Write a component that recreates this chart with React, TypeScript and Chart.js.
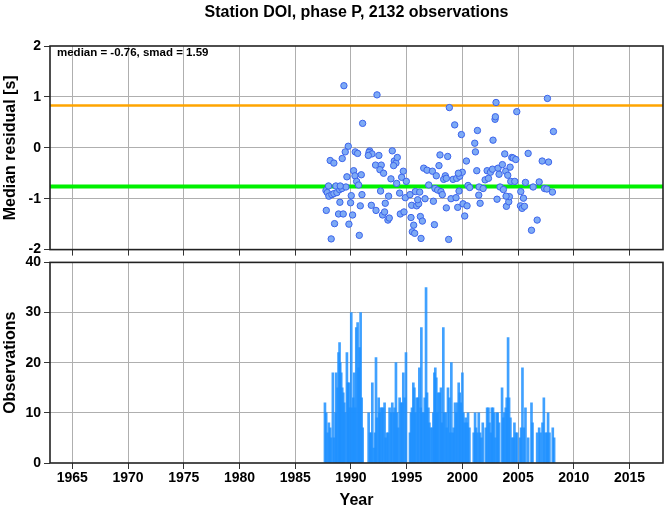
import React, { useEffect, useRef } from "react";
import { Chart, registerables } from "chart.js";

Chart.register(...registerables);

const titleText = "Station DOI, phase P, 2132 observations";
const statsText = "median = -0.76, smad = 1.59";
const residualAxisTitle = "Median residual [s]";
const obsAxisTitle = "Observations";
const yearAxisTitle = "Year";

const X_MIN = 1963;
const X_MAX = 2018;
const xTicks = [1965, 1970, 1975, 1980, 1985, 1990, 1995, 2000, 2005, 2010, 2015];
const residualTicks = [-2, -1, 0, 1, 2];
const obsTicks = [0, 10, 20, 30, 40];

const medianLevel = -0.76;
const upperLevel = 0.83;

const residualYears = [
  1989.37, 1992.34, 1991.05, 1998.83, 2003.02, 2007.63, 2004.88, 1999.31, 2002.93, 2002.96,
  1999.91, 2001.35, 2002.75, 2008.17, 2001.11, 2001.17, 1989.76, 1989.49, 1989.22, 1988.14,
  1988.47, 1990.39, 1990.6, 1991.68, 1991.62, 1991.89, 1991.56, 1992.51, 1993.71, 1993.89,
  1994.04, 1993.83, 1994.16, 1992.21, 1992.72, 1992.6, 1992.93, 1990.24, 1990.36, 1990.93,
  1990.51, 1990.69, 1989.64, 1993.59, 1994.55, 1994.7, 1994.97, 1994.1, 1997.99, 1998.68,
  2000.36, 1996.53, 1996.83, 1997.31, 1997.66, 1997.9, 1998.47, 1998.32, 1998.56, 1999.16,
  1999.49, 1999.76, 1999.99, 1999.64, 2000.51, 2000.66, 1996.98, 1997.54, 1997.78, 1998.08,
  1998.2, 1999.7, 2001.29, 2001.5, 2001.86, 2002.04, 2002.22, 2002.34, 2002.52, 2002.7,
  2003.2, 2003.29, 2003.59, 2003.8, 2003.89, 2004.07, 2004.28, 2004.34, 2004.7, 2004.43,
  2004.55, 2004.79, 2005.9, 2003.38, 2003.68, 2003.11, 2003.95, 2004.16, 2004.22, 2005.24,
  2005.48, 2005.66, 2005.21, 2005.36, 2005.57, 2006.35, 2006.89, 2007.16, 2007.73, 2007.37,
  2007.58, 2008.08, 2006.71, 2006.2, 1987.76, 1987.88, 1988.02, 1988.29, 1988.47, 1988.74,
  1988.98, 1989.19, 1989.55, 1987.99, 1988.65, 1989.04, 1989.01, 1987.79, 1988.89, 1989.31,
  1988.53, 1989.82, 1988.23, 1990.75, 1989.97, 1990.03, 1990.15, 1990.84, 1990.99, 1991.83,
  1992.25, 1992.66, 1992.84, 1993.02, 1993.32, 1993.44, 1993.08, 1993.38, 1994.37, 1994.43,
  1994.76, 1994.88, 1995.3, 1995.78, 1996.17, 1995.45, 1995.9, 1996.08, 1995.99, 1996.65,
  1995.39, 1996.23, 1996.41, 1995.63, 1995.51, 1995.72, 1996.29, 1997.4, 1997.49, 1998.56,
  1998.98, 1999.43, 1999.58, 2000.06, 2000.42, 2000.21, 1998.77, 2001.47, 2001.59, 2003.92,
];

const residualValues = [
  1.22, 1.04, 0.48, 0.79, 0.89, 0.97, 0.71, 0.45, 0.56, 0.61,
  0.26, 0.34, 0.15, 0.32, 0.09, -0.08, 0.03, -0.08, -0.21, -0.25,
  -0.3, -0.08, -0.11, -0.06, -0.09, -0.12, -0.15, -0.15, -0.06, -0.26,
  -0.3, -0.35, -0.19, -0.34, -0.34, -0.43, -0.5, -0.45, -0.55, -0.53,
  -0.66, -0.73, -0.57, -0.61, -0.58, -0.46, -0.66, -0.7, -0.14, -0.17,
  -0.26, -0.4, -0.44, -0.46, -0.55, -0.35, -0.55, -0.62, -0.6, -0.62,
  -0.6, -0.56, -0.48, -0.5, -0.74, -0.78, -0.73, -0.8, -0.83, -0.86,
  -0.92, -0.85, -0.45, -0.77, -0.8, -0.63, -0.45, -0.6, -0.48, -0.42,
  -0.4, -0.52, -0.33, -0.12, -0.46, -0.54, -0.38, -0.66, -0.66, -0.19,
  -0.2, -0.23, -0.11, -0.77, -0.82, -1.01, -1.15, -1.06, -0.96, -0.86,
  -0.99, -0.68, -1.14, -1.19, -1.15, -0.77, -0.67, -0.26, -0.28, -0.8,
  -0.81, -0.87, -1.42, -1.62, -0.84, -0.88, -0.95, -0.92, -0.9, -0.88,
  -0.82, -0.8, -0.77, -0.75, -0.75, -0.75, -1.07, -1.23, -1.3, -1.3,
  -1.49, -1.5, -1.79, -1.72, -1.08, -0.94, -1.32, -1.14, -0.92, -1.13,
  -1.23, -0.85, -1.32, -1.26, -1.42, -1.38, -1.09, -0.95, -0.89, -1.3,
  -1.26, -0.98, -0.92, -0.86, -0.87, -1.13, -1.14, -1.1, -1.02, -1.0,
  -1.37, -1.35, -1.44, -1.52, -1.65, -1.68, -1.78, -1.05, -1.51, -1.18,
  -1.0, -0.98, -1.17, -1.1, -1.14, -1.34, -1.8, -0.93, -1.09, -0.95,
];

const obsYears = [
  1987.67, 1987.78, 1987.9, 1988.02, 1988.14, 1988.23, 1988.38, 1988.5, 1988.62, 1988.68,
  1988.8, 1988.89, 1988.98, 1989.04, 1989.13, 1989.22, 1989.31, 1989.4, 1989.49, 1989.64,
  1989.73, 1989.82, 1989.88, 1990.03, 1990.12, 1990.21, 1990.3, 1990.39, 1990.48, 1990.6,
  1990.69, 1990.78, 1990.87, 1990.96, 1991.05, 1991.59, 1991.71, 1991.83, 1991.92, 1992.04,
  1992.16, 1992.25, 1992.34, 1992.49, 1992.57, 1992.66, 1992.78, 1992.9, 1993.02, 1993.11,
  1993.23, 1993.35, 1993.47, 1993.59, 1993.71, 1993.83, 1993.92, 1994.04, 1994.13, 1994.25,
  1994.37, 1994.49, 1994.61, 1994.7, 1994.82, 1994.94, 1995.3, 1995.39, 1995.48, 1995.6,
  1995.69, 1995.78, 1995.9, 1996.02, 1996.14, 1996.26, 1996.32, 1996.41, 1996.53, 1996.62,
  1996.74, 1996.83, 1996.95, 1997.04, 1997.16, 1997.31, 1997.4, 1997.49, 1997.57, 1997.66,
  1997.75, 1997.84, 1997.96, 1998.08, 1998.17, 1998.29, 1998.38, 1998.5, 1998.59, 1998.71,
  1998.83, 1998.92, 1999.01, 1999.13, 1999.22, 1999.34, 1999.46, 1999.55, 1999.67, 1999.76,
  1999.88, 2000.0, 2000.09, 2000.21, 2000.3, 2000.42, 2000.51, 2000.63, 2001.02, 2001.14,
  2001.23, 2001.35, 2001.47, 2001.59, 2001.71, 2001.83, 2002.1, 2002.22, 2002.34, 2002.43,
  2002.55, 2002.64, 2002.75, 2002.84, 2002.96, 2003.08, 2003.17, 2003.29, 2003.56, 2003.68,
  2003.77, 2003.89, 2003.98, 2004.1, 2004.19, 2004.31, 2004.46, 2004.58, 2004.67, 2004.79,
  2004.91, 2005.18, 2005.27, 2005.39, 2005.51, 2005.66, 2005.9, 2006.2, 2006.29, 2006.71,
  2006.89, 2007.01, 2007.19, 2007.31, 2007.46, 2007.58, 2007.69, 2007.81, 2008.11, 2008.23,
];

const obsCounts = [
  12, 10, 6, 8, 7, 5, 18, 5, 10, 18,
  15, 22, 24, 20, 18, 15, 14, 12, 10, 22,
  16, 16, 11, 30, 11, 13, 18, 11, 27, 28,
  19, 23, 30, 13, 7, 10, 6, 6, 16, 3,
  6, 21, 9, 13, 10, 11, 11, 11, 12, 5,
  6, 6, 11, 10, 12, 10, 11, 20, 10, 7,
  13, 12, 12, 18, 13, 22, 6, 10, 11, 16,
  15, 10, 13, 13, 19, 11, 27, 10, 10, 13,
  35, 14, 11, 8, 7, 7, 10, 18, 19, 17,
  10, 14, 14, 15, 8, 27, 10, 10, 7, 15,
  13, 6, 20, 6, 7, 12, 10, 12, 16, 14,
  12, 18, 10, 8, 9, 8, 10, 7, 6, 10,
  7, 6, 10, 6, 5, 8, 7, 11, 11, 8,
  6, 11, 11, 10, 5, 10, 10, 8, 15, 9,
  10, 11, 13, 25, 13, 9, 5, 5, 8, 6,
  6, 5, 7, 19, 7, 11, 5, 12, 8, 6,
  7, 6, 8, 13, 6, 6, 10, 6, 7, 5,
];

const FONT = "'Liberation Sans', Arial, Helvetica, sans-serif";
const GRID = "rgb(175,175,175)";
const TICKC = "#333";

const gridColor = (lo: number, hi: number) => (ctx: any) => {
  const v = ctx.tick ? ctx.tick.value : null;
  if (v === lo || v === hi) return "rgba(0,0,0,0)";
  return GRID;
};

const framePlugin = {
  id: "frame",
  afterDatasetsDraw(chart: any) {
    const { ctx, chartArea: a } = chart;
    ctx.save();
    ctx.strokeStyle = "#222";
    ctx.lineWidth = 1.6;
    ctx.strokeRect(a.left, a.top, a.right - a.left, a.bottom - a.top);
    ctx.restore();
  },
};

const topTextPlugin = {
  id: "topText",
  afterDraw(chart: any) {
    const { ctx, chartArea: a } = chart;
    ctx.save();
    ctx.fillStyle = "#000";
    ctx.font = `bold 16px ${FONT}`;
    ctx.textAlign = "center";
    ctx.textBaseline = "middle";
    ctx.fillText(titleText, (a.left + a.right) / 2, 13);
    ctx.font = `bold 11.5px ${FONT}`;
    ctx.textAlign = "left";
    ctx.fillText(statsText, a.left + 7, a.top + 7);
    ctx.restore();
  },
};

function xScale(showLabels: boolean, height: number) {
  return {
    type: "linear",
    min: X_MIN,
    max: X_MAX,
    offset: false,
    afterBuildTicks: (s: any) => {
      s.ticks = xTicks.map((v) => ({ value: v }));
    },
    afterFit: (s: any) => {
      s.height = height;
    },
    border: { display: false },
    grid: { color: GRID, tickColor: TICKC, tickLength: 6, drawTicks: true, offset: false, lineWidth: 1 },
    ticks: {
      display: showLabels,
      color: "#000",
      font: { family: FONT, size: 14, weight: "bold" },
      padding: 1,
      maxRotation: 0,
      autoSkip: false,
      callback: (v: any) => String(v),
    },
    title: {
      display: showLabels,
      text: yearAxisTitle,
      color: "#000",
      font: { family: FONT, size: 16, weight: "bold" },
      padding: { top: 0, bottom: 1 },
    },
  };
}

function yScale(min: number, max: number, ticks: number[], title: string) {
  return {
    type: "linear",
    min,
    max,
    afterBuildTicks: (s: any) => {
      s.ticks = ticks.map((v) => ({ value: v }));
    },
    afterFit: (s: any) => {
      s.width = 50;
    },
    border: { display: false },
    grid: { color: gridColor(min, max), tickColor: TICKC, tickLength: 6, drawTicks: true, lineWidth: 1 },
    ticks: {
      color: "#000",
      font: { family: FONT, size: 14, weight: "bold" },
      padding: 3,
      autoSkip: false,
      callback: (v: any) => String(v),
    },
    title: {
      display: true,
      text: title,
      color: "#000",
      font: { family: FONT, size: 16, weight: "bold" },
      padding: { top: 1, bottom: 0 },
    },
  };
}

export default function App() {
  const topRef = useRef<HTMLCanvasElement | null>(null);
  const botRef = useRef<HTMLCanvasElement | null>(null);

  useEffect(() => {
    const top = new Chart(topRef.current as HTMLCanvasElement, {
      type: "scatter",
      data: {
        datasets: [
          {
            type: "line",
            data: [
              { x: X_MIN, y: upperLevel },
              { x: X_MAX, y: upperLevel },
            ],
            borderColor: "#FFA500",
            borderWidth: 2.5,
            pointRadius: 0,
            order: 3,
          } as any,
          {
            type: "line",
            data: [
              { x: X_MIN, y: medianLevel },
              { x: X_MAX, y: medianLevel },
            ],
            borderColor: "#00F000",
            borderWidth: 4,
            pointRadius: 0,
            order: 2,
          } as any,
          {
            type: "scatter",
            data: residualYears.map((x, i) => ({ x, y: residualValues[i] })),
            backgroundColor: "rgb(125,170,245)",
            borderColor: "rgb(60,100,235)",
            borderWidth: 1,
            pointRadius: 3.2,
            order: 1,
          } as any,
        ],
      },
      options: {
        animation: false,
        responsive: false,
        layout: { padding: { left: 0, right: 6, top: 46, bottom: 0 } },
        plugins: { legend: { display: false }, tooltip: { enabled: false }, title: { display: false } },
        scales: {
          x: xScale(false, 8) as any,
          y: yScale(-2, 2, residualTicks, residualAxisTitle) as any,
        },
      },
      plugins: [framePlugin, topTextPlugin],
    });

    const bot = new Chart(botRef.current as HTMLCanvasElement, {
      type: "bar",
      data: {
        datasets: [
          {
            data: obsYears.map((x, i) => ({ x, y: obsCounts[i] })),
            backgroundColor: "rgba(30,144,255,0.85)",
            borderWidth: 0,
            barThickness: 2,
          } as any,
        ],
      },
      options: {
        animation: false,
        responsive: false,
        layout: { padding: { left: 0, right: 6, top: 0, bottom: 0 } },
        plugins: { legend: { display: false }, tooltip: { enabled: false } },
        scales: {
          x: xScale(true, 48) as any,
          y: yScale(0, 40, obsTicks, obsAxisTitle) as any,
        },
      },
      plugins: [framePlugin],
    });

    return () => {
      top.destroy();
      bot.destroy();
    };
  }, []);

  return (
    <div style={{ position: "fixed", left: 0, top: 0, width: 669, height: 511, background: "#fff" }}>
      <canvas
        ref={topRef}
        width={669}
        height={261}
        style={{ position: "absolute", left: 0, top: 0, display: "block", width: 669, height: 261 }}
      />
      <canvas
        ref={botRef}
        width={669}
        height={260}
        style={{ position: "absolute", left: 0, top: 251, display: "block", width: 669, height: 260 }}
      />
    </div>
  );
}
